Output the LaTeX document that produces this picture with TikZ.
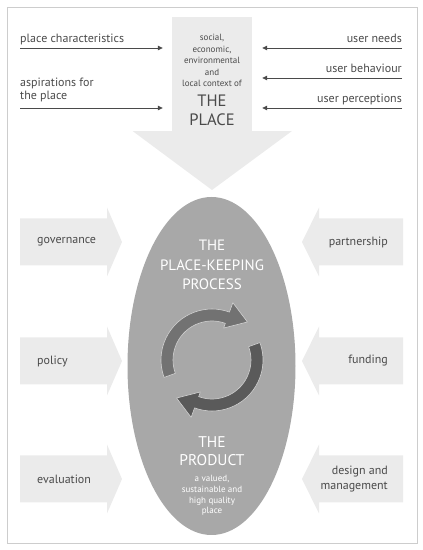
\documentclass[tikz,border=0pt]{standalone}
\usepackage{fontspec}
\setmainfont{PT Sans}
\usetikzlibrary{arrows.meta,positioning,shapes.geometric}

\definecolor{txtgray}{HTML}{4A4A4A}
\definecolor{lightfill}{HTML}{EBEBEB}
\definecolor{ovalfill}{HTML}{A8A8A8}
\definecolor{framegray}{HTML}{CDCDCD}
\definecolor{cycA}{HTML}{727272}
\definecolor{cycB}{HTML}{5A5A5A}
\definecolor{cycedge}{HTML}{D2D2D2}

\begin{document}
\begin{tikzpicture}[
    x=1pt, y=1pt,
    lbl/.style={text=txtgray, inner sep=0pt, font=\fontsize{12}{13}\selectfont},
    smalltxt/.style={inner sep=0pt, align=center, font=\fontsize{9}{11.5}\selectfont},
    bigtxt/.style={inner sep=0pt, align=center, font=\fontsize{15}{19.5}\selectfont},
    feed/.style={-{Triangle[length=5pt,width=4.5pt]}, line width=0.8pt, draw=txtgray},
    blockarrow/.style={fill=lightfill, draw=none}
]
\useasboundingbox (0,0) rectangle (423,550);
\draw[framegray, line width=0.8pt] (7,7) rectangle (417,543);

% the place
\node[rectangle, fill=lightfill, minimum width=80, minimum height=114, inner sep=0pt] (shaft) at (212,476) {};
\fill[lightfill] (shaft.south west) -- ++(-39,0) -- (212,360) -- (292,419) -- (shaft.south east) -- cycle;
\node[smalltxt, text=txtgray, anchor=base] (context) at (212,463) {social,\\economic,\\environmental\\and\\local context of};
\node[bigtxt, text=txtgray, anchor=base, font=\fontsize{16.5}{19}\selectfont] (place) at (212,424) {THE\\PLACE};

% inputs to the place
\node[lbl, anchor=base west] (pchar) at (20,507) {place characteristics};
\node[lbl, anchor=base west, align=left] (aspire) at (20,450) {aspirations for\\the place};
\node[lbl, anchor=base east] (uneeds) at (402,507) {user needs};
\node[lbl, anchor=base east] (ubehav) at (402,477) {user behaviour};
\node[lbl, anchor=base east] (uperc) at (402,447) {user perceptions};

\coordinate (pcA) at (20,502);
\coordinate (asA) at (20,442);
\coordinate (unA) at (402,502);
\coordinate (ubA) at (402,472);
\coordinate (upA) at (402,442);
\draw[feed, shorten >=9pt] (pcA) -- (pcA -| shaft.west);
\draw[feed, shorten >=9pt] (asA) -- (asA -| shaft.west);
\draw[feed, shorten >=10pt] (unA) -- (unA -| shaft.east);
\draw[feed, shorten >=10pt] (ubA) -- (ubA -| shaft.east);
\draw[feed, shorten >=10pt] (upA) -- (upA -| shaft.east);

% side arrows
\foreach \yy/\nm/\txt in {308/gov/governance, 189/pol/policy, 71/eva/evaluation}{
    \fill[blockarrow] (20,\yy+23.5) -- (107,\yy+23.5) -- (107,\yy+34.5) -- (122,\yy)
        -- (107,\yy-34.5) -- (107,\yy-23.5) -- (20,\yy-23.5) -- cycle;
    \node[lbl, anchor=west] (\nm) at (37,\yy) {\txt};
}
\foreach \yy/\nm/\txt in {308/part/partnership, 189/fund/funding, 71/desman/{design and\\management}}{
    \fill[blockarrow] (403,\yy+23.5) -- (319,\yy+23.5) -- (319,\yy+34.5) -- (302,\yy)
        -- (319,\yy-34.5) -- (319,\yy-23.5) -- (403,\yy-23.5) -- cycle;
    \node[lbl, anchor=east, align=right, font=\fontsize{12}{15}\selectfont] (\nm) at (388,\yy) {\txt};
}

% the process
\node[ellipse, fill=ovalfill, minimum width=168, minimum height=338, inner sep=0pt] (proc) at (211.5,184) {};
\node[bigtxt, text=white, anchor=base] (proctitle) at (212,260) {THE\\PLACE-KEEPING\\PROCESS};
\node[bigtxt, text=white, anchor=base, font=\fontsize{15.5}{19}\selectfont] (prodtitle) at (212,84) {THE\\PRODUCT};
\node[smalltxt, text=white, anchor=base, font=\fontsize{9}{10.8}\selectfont] (prodtext) at (212,36) {a valued,\\sustainable and\\high quality\\place};

\coordinate (cyc) at (212,190);
\begin{scope}[shift={(cyc)}]
\foreach \r/\col in {0/cycA, 180/cycB}{
    \filldraw[fill=\col, draw=cycedge, line width=0.6pt, line join=round]
        (200+\r:51) arc[start angle=200+\r, end angle=70+\r, radius=51]
        -- (70+\r:61) -- (47+\r:52) -- (70+\r:34) -- (70+\r:39)
        arc[start angle=70+\r, end angle=200+\r, radius=39] -- cycle;
}
\end{scope}

\end{tikzpicture}
\end{document}
